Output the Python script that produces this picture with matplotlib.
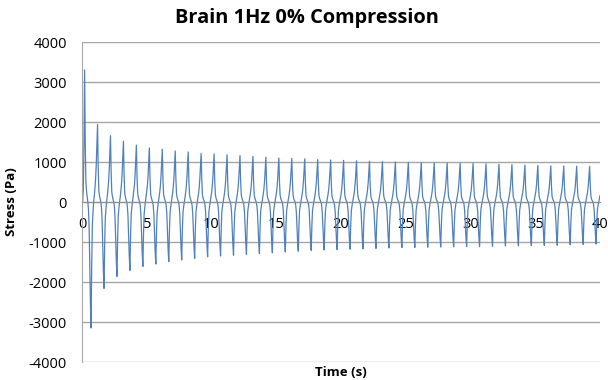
import numpy as np
import matplotlib
matplotlib.use("Agg")
import matplotlib.pyplot as plt

# Peak stress of each loading cycle (Pa), one per second starting at t = 0.2 s
peaks = [3300, 1940, 1660, 1520, 1420, 1350, 1320, 1275, 1250, 1215,
         1200, 1180, 1160, 1140, 1120, 1100, 1090, 1080, 1060, 1050,
         1040, 1030, 1020, 1010, 1000, 990, 985, 980, 975, 970,
         965, 955, 945, 935, 925, 915, 905, 900, 895, 890]
# Trough stress of each cycle (Pa), one per second starting at t = 0.7 s
troughs = [-3150, -2160, -1860, -1710, -1610, -1550, -1490, -1450, -1410, -1370,
           -1350, -1330, -1310, -1290, -1270, -1250, -1230, -1210, -1200, -1190,
           -1180, -1170, -1160, -1150, -1140, -1135, -1130, -1125, -1120, -1115,
           -1110, -1105, -1100, -1095, -1090, -1085, -1080, -1070, -1060, -1050]
# Normalised stress profile of one cycle, sampled every 0.05 s
cycle_shape = [0.18, 0.30, 0.48, 0.72, 1.00, 0.45, 0.15, 0.08, 0.04, 0.00,
               -0.06, -0.20, -0.50, -0.80, -1.00, -0.50, -0.18, -0.08, 0.00, 0.08]
# Stress during the first 0.2 s, before the first peak
lead_in = [0, 0, 300, 1400]

dt = 0.05
y_ticks = [-4000, -3000, -2000, -1000, 0, 1000, 2000, 3000, 4000]
x_ticks = [0, 5, 10, 15, 20, 25, 30, 35, 40]

# Assemble the stress trace
n = int(round(40 / dt)) + 1
t = np.arange(n) * dt
shape = np.array(cycle_shape)
npts = len(shape)
idx = np.arange(n) % npts
cyc = np.arange(n) // npts
stress = np.zeros(n)
for i in range(n):
    s = shape[idx[i]]
    if s >= 0:
        k = cyc[i] + (1 if idx[i] >= 12 else 0)
        k = min(k, len(peaks) - 1)
        stress[i] = s * peaks[k]
    else:
        k = min(cyc[i], len(troughs) - 1)
        stress[i] = -s * troughs[k]
stress[:len(lead_in)] = lead_in

plt.rcParams['font.family'] = ['Open Sans', 'DejaVu Sans']

fig = plt.figure(figsize=(6.08, 3.80), dpi=100)
ax = fig.add_axes([82 / 608, 1 - 362 / 380, 518 / 608, 320 / 380])

ax.plot(t, stress, color='#4F81BD', lw=0.9)

ax.set_xlim(0, 40)
ax.set_ylim(-4000, 4000)
ax.set_yticks(y_ticks)
ax.set_xticks(x_ticks)
ax.set_xticklabels([str(v) for v in x_ticks])
ax.set_yticklabels([str(v) for v in y_ticks])

ax.grid(axis='y', color='#A6A6A6', lw=1.0)
ax.set_axisbelow(True)

for side in ('top', 'right'):
    ax.spines[side].set_visible(False)
ax.spines['left'].set_color('#A6A6A6')
ax.spines['bottom'].set_position(('data', 0))
ax.spines['bottom'].set_color('#909090')

ax.tick_params(axis='x', length=0, pad=11, labelsize=10.5, colors='black')
ax.tick_params(axis='y', length=0, pad=11, labelsize=10.5, colors='black')

ax.set_ylabel('Stress (Pa)', fontsize=9.5, fontweight='bold')
ax.yaxis.set_label_coords(-0.124, 0.5)
fig.text(341 / 608, 1 - 373 / 380, 'Time (s)', ha='center', va='center',
         fontsize=9.5, fontweight='bold')
fig.text(307 / 608, 1 - 18 / 380, 'Brain 1Hz 0% Compression', ha='center',
         va='center', fontsize=14.4, fontweight='bold')

fig.savefig('out.png', dpi=100)
